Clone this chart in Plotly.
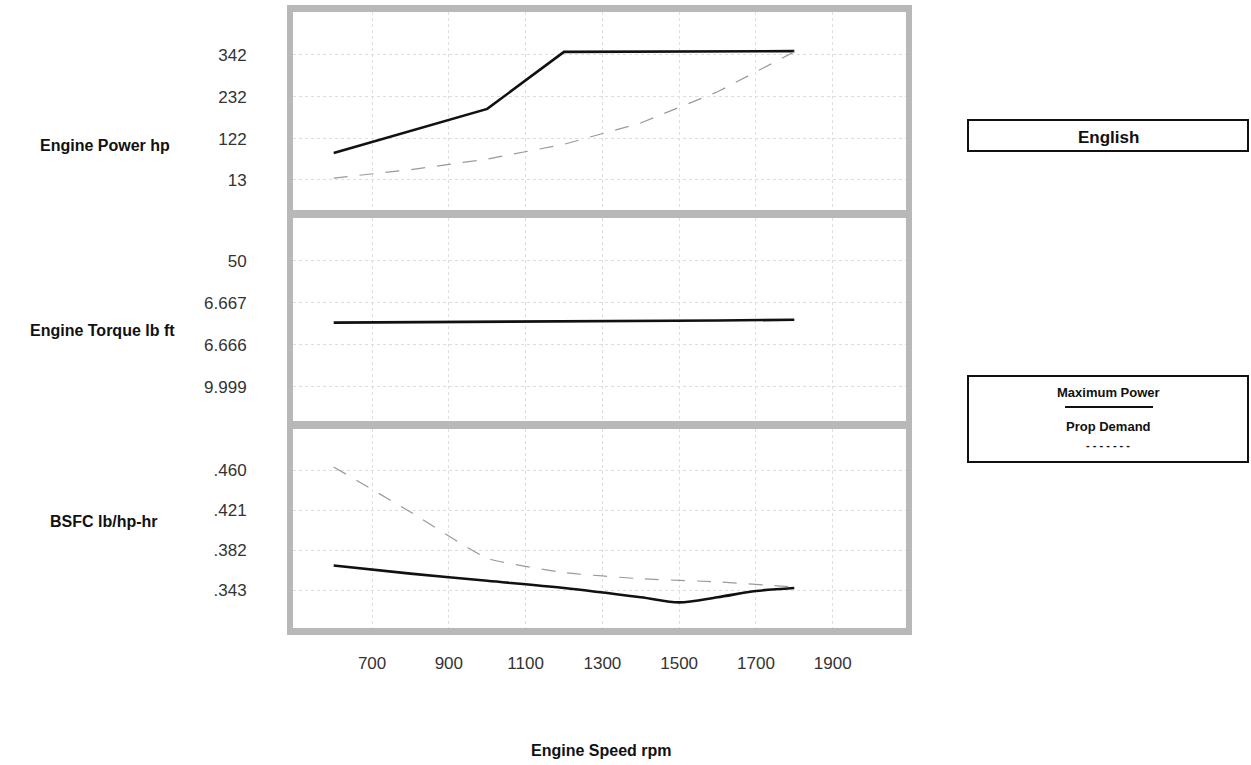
import plotly.graph_objects as go

# ---- data ----
rpm_max_power = [600, 1000, 1200, 1800]
max_power_hp = [84, 200, 350, 352]

rpm_prop = [600, 800, 1000, 1200, 1400, 1600, 1800]
prop_power_hp = [18, 40, 68, 107, 163, 245, 350]

rpm_torque = [600, 800, 1000, 1200, 1400, 1600, 1800]
max_torque = [1020.4, 1020.5, 1020.6, 1020.8, 1021.0, 1021.1, 1021.3]

rpm_bsfc_max = [600, 800, 1000, 1200, 1400, 1500, 1600, 1700, 1800]
bsfc_max = [0.367, 0.359, 0.352, 0.345, 0.336, 0.331, 0.336, 0.342, 0.345]

rpm_bsfc_prop = [600, 800, 1000, 1200, 1400, 1600, 1800]
bsfc_prop = [0.463, 0.419, 0.374, 0.360, 0.354, 0.351, 0.346]

x_ticks = [700, 900, 1100, 1300, 1500, 1700, 1900]
power_ticks = [13, 122, 232, 342]
power_ticktext = ["13", "122", "232", "342"]
torque_ticks = [1000.0, 1013.333, 1026.667, 1040.0]
torque_ticktext = ["9.999", "6.666", "6.667", "50"]
bsfc_ticks = [0.343, 0.382, 0.421, 0.460]
bsfc_ticktext = [".343", ".382", ".421", ".460"]

W, H = 1251, 765
def px(x):
    return x / W
def py(y):
    return 1 - y / H

TICKFONT = dict(family="Liberation Sans Narrow, Liberation Sans, Arial", size=17, color="#333333")
SOLID = dict(color="#111111", width=2.6)
DASH = dict(color="#9a9a9a", width=1.2, dash="14px,12px")

fig = go.Figure()
fig.add_trace(go.Scatter(x=rpm_max_power, y=max_power_hp, mode="lines", line=SOLID, xaxis="x", yaxis="y", showlegend=False))
fig.add_trace(go.Scatter(x=rpm_prop, y=prop_power_hp, mode="lines", line=DASH, xaxis="x", yaxis="y", showlegend=False))
fig.add_trace(go.Scatter(x=rpm_torque, y=max_torque, mode="lines", line=SOLID, xaxis="x2", yaxis="y2", showlegend=False))
fig.add_trace(go.Scatter(x=rpm_bsfc_max, y=bsfc_max, mode="lines", line=dict(SOLID, shape="spline", smoothing=0.9), xaxis="x3", yaxis="y3", showlegend=False))
fig.add_trace(go.Scatter(x=rpm_bsfc_prop, y=bsfc_prop, mode="lines", line=dict(DASH, shape="spline", smoothing=0.4), xaxis="x3", yaxis="y3", showlegend=False))

xdom = [px(293), px(906)]
xrange = [494, 2091]
grid = dict(showgrid=True, gridcolor="#dedede", griddash="dot", gridwidth=1, zeroline=False, showline=False)

def xaxis(anchor, labels):
    d = dict(domain=xdom, range=xrange, tickvals=x_ticks, anchor=anchor, **grid)
    if labels:
        d.update(showticklabels=True, ticks="outside", ticklen=20, tickcolor="rgba(0,0,0,0)", tickfont=TICKFONT)
    else:
        d.update(showticklabels=False)
    return d

def yaxis(anchor, dom, rng, tv, tt):
    return dict(domain=dom, range=rng, tickvals=tv, ticktext=tt, anchor=anchor,
                ticks="outside", ticklen=42, tickcolor="rgba(0,0,0,0)", tickfont=TICKFONT, **grid)

fig.update_layout(
    width=W, height=H, margin=dict(l=0, r=0, t=0, b=0),
    paper_bgcolor="white", plot_bgcolor="white",
    xaxis=xaxis("y", False),
    xaxis2=xaxis("y2", False),
    xaxis3=xaxis("y3", True),
    yaxis=yaxis("x", [py(210), py(12)], [-66, 455], power_ticks, power_ticktext),
    yaxis2=yaxis("x2", [py(421), py(218)], [989.2, 1053.6], torque_ticks, torque_ticktext),
    yaxis3=yaxis("x3", [py(628), py(429)], [0.306, 0.500], bsfc_ticks, bsfc_ticktext),
)

# gray frame bands
band = "#b8b8b8"
shapes = []
for (x0, y0, x1, y1) in [(287, 5, 912, 12), (287, 628, 912, 635), (287, 5, 293, 635), (906, 5, 912, 635),
                         (287, 210, 912, 218), (287, 421, 912, 429)]:
    shapes.append(dict(type="rect", xref="paper", yref="paper", x0=px(x0), x1=px(x1), y0=py(y1), y1=py(y0),
                       fillcolor=band, line=dict(width=0), layer="above"))
# English box
shapes.append(dict(type="rect", xref="paper", yref="paper", x0=px(968), x1=px(1248), y0=py(151), y1=py(120),
                   line=dict(color="#111", width=2), fillcolor="rgba(0,0,0,0)"))
# legend box
shapes.append(dict(type="rect", xref="paper", yref="paper", x0=px(968), x1=px(1248), y0=py(462), y1=py(376),
                   line=dict(color="#111", width=2), fillcolor="rgba(0,0,0,0)"))
shapes.append(dict(type="line", xref="paper", yref="paper", x0=px(1065), x1=px(1153), y0=py(407), y1=py(407),
                   line=dict(color="#111", width=2.2)))
fig.update_layout(shapes=shapes)

LBL = dict(family="Liberation Sans, Arial", size=16, color="#111")
def ann(text, x, y, size=16):
    fig.add_annotation(text=f"<b>{text}</b>", xref="paper", yref="paper", x=px(x), y=py(y),
                       showarrow=False, xanchor="center", yanchor="middle", font=dict(LBL, size=size))

ann("Engine Power hp", 105, 145)
ann("Engine Torque lb ft", 102, 330)
ann("BSFC lb/hp-hr", 104, 521)
ann("Engine Speed rpm", 601, 750)
ann("English", 1108, 137, 17)
ann("Maximum Power", 1108, 393, 13)
ann("Prop Demand", 1108, 426, 13)
ann("- - - - - - -", 1108, 445, 11)

fig.write_html("out.html", config={"displayModeBar": False},
               post_script="document.body.style.margin='0px';document.body.style.overflow='hidden';")
